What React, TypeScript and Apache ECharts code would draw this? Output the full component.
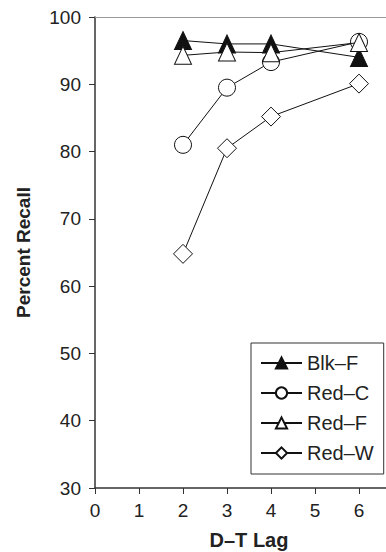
import React, { useEffect, useRef } from "react";
import * as echarts from "echarts";

const lags = [2, 3, 4, 6];
const blkF = [96.5, 96.0, 96.0, 94.0];
const redC = [81.0, 89.5, 93.3, 96.3];
const redF = [94.3, 94.8, 94.7, 96.2];
const redW = [64.8, 80.5, 85.2, 90.1];
const yTicks = { min: 30, max: 100, interval: 10 };
const xTicks = { min: 0, max: 7, interval: 1, lastLabel: 6 };

const FONT = "'Liberation Sans', Arial, Helvetica, sans-serif";
const TXT = "#222";

function pairs(vals: number[]) {
  return lags.map((x, i) => [x, vals[i]]);
}

export default function App() {
  const ref = useRef<HTMLDivElement>(null);
  useEffect(() => {
    if (!ref.current) return;
    const chart = echarts.init(ref.current, undefined, { renderer: "svg" });
    const mk = (name: string, vals: number[], symbol: string, size: any, fill: string, z: number) => ({
      name,
      type: "line",
      data: pairs(vals),
      symbol,
      symbolSize: size,
      z,
      lineStyle: { color: "#111", width: 1 },
      itemStyle: { color: fill, borderColor: "#111", borderWidth: 1 },
      emphasis: { disabled: true },
    });
    chart.setOption({
      animation: false,
      grid: {
        left: 95,
        width: 308,
        top: 17,
        bottom: 64,
        containLabel: false,
        outerBoundsMode: "none",
      },
      xAxis: [
        {
          type: "value",
          min: xTicks.min,
          max: xTicks.max,
          interval: xTicks.interval,
          name: "D\u2013T Lag",
          nameLocation: "middle",
          nameGap: 42,
          nameTextStyle: { fontFamily: FONT, fontSize: 20, fontWeight: "bold", color: TXT },
          axisLine: { onZero: false, lineStyle: { color: "#333", width: 1.5 } },
          axisTick: { show: true, length: 6, lineStyle: { color: "#333", width: 1 } },
          axisLabel: {
            margin: 13,
            fontFamily: FONT,
            fontSize: 19,
            color: TXT,
            formatter: (v: number) => (v > xTicks.lastLabel ? "" : String(v)),
          },
          splitLine: { show: false },
        },
        {
          type: "value",
          position: "top",
          min: xTicks.min,
          max: xTicks.max,
          axisLine: { show: true, onZero: false, lineStyle: { color: "#999", width: 1 } },
          axisTick: { show: false },
          axisLabel: { show: false },
          splitLine: { show: false },
        },
      ],
      yAxis: {
        type: "value",
        min: yTicks.min,
        max: yTicks.max,
        interval: yTicks.interval,
        name: "Percent Recall",
        nameLocation: "middle",
        nameGap: 62,
        nameRotate: 90,
        nameTextStyle: { fontFamily: FONT, fontSize: 19, fontWeight: "bold", color: TXT },
        axisLine: { show: true, onZero: false, lineStyle: { color: "#333", width: 1.5 } },
        axisTick: { show: true, length: 6, lineStyle: { color: "#333", width: 1 } },
        axisLabel: { margin: 14, fontFamily: FONT, fontSize: 19, color: TXT },
        splitLine: { show: false },
      },
      legend: {
        orient: "vertical",
        left: 251,
        top: 343,
        padding: [10, 10, 11, 9],
        itemWidth: 41,
        itemHeight: 14,
        itemGap: 10,
        borderColor: "#333",
        borderWidth: 1,
        selectedMode: false,
        textStyle: { fontFamily: FONT, fontSize: 20, color: TXT, lineHeight: 19 },
        data: ["Blk\u2013F", "Red\u2013C", "Red\u2013F", "Red\u2013W"],
      },
      series: [
        mk("Blk\u2013F", blkF, "triangle", [17, 18], "#111", 4),
        mk("Red\u2013C", redC, "circle", 17, "#fff", 3),
        mk("Red\u2013F", redF, "triangle", [17, 18], "#fff", 5),
        mk("Red\u2013W", redW, "diamond", 19, "#fff", 2),
      ],
    });
    return () => chart.dispose();
  }, []);
  return (
    <div
      ref={ref}
      style={{ position: "fixed", left: 0, top: 0, width: 386, height: 552, background: "#fff" }}
    />
  );
}
